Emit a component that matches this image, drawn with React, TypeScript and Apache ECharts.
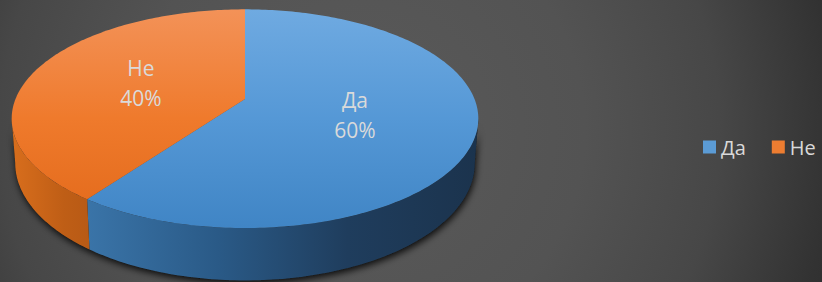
import React, { useEffect, useRef } from 'react';
import * as echarts from 'echarts';

// ---- data ----
const categories = ['Да', 'Не'];
const values = [60, 40];

// ---- styles ----
const legendColors = ['#5b9bd5', '#ed7d31'];
const topStops = [
  ['#6faae1', '#5598d6', '#4085c5'],
  ['#f39258', '#ef7a2c', '#e2691a'],
];
const wallStops = [
  ['#3a74a8', '#2a5a87', '#1f3d5d', '#1b334d'],
  ['#d86e1d', '#cc6619', '#bf5e16', '#b85a15'],
];

// ---- layout (3D projection of the pie) ----
const CX = 245;
const CY = 99;
const A = 229.5;
const B = 105.8;
const P = 0.18;
const H = 43;
const K = 0.985;
const thL = (Math.acos(-P) * 180) / Math.PI;
const thR = 360 - thL;

const total = values.reduce((a, b) => a + b, 0);

function proj(theta: number, f: number, dz: number): number[] {
  const t = (theta * Math.PI) / 180;
  const u = f * Math.sin(t);
  const v = -f * Math.cos(t);
  const s = 1 / (1 - P * v);
  const kx = dz ? K : 1;
  return [CX + A * u * s * kx, CY + B * v * s + dz * H * s];
}

function arc(a: number, b: number, f: number, dz: number): number[][] {
  const pts: number[][] = [];
  const n = Math.max(2, Math.ceil(Math.abs(b - a)));
  for (let i = 0; i <= n; i++) pts.push(proj(a + ((b - a) * i) / n, f, dz));
  return pts;
}

function stopsOf(cols: string[]) {
  return cols.map((c, i) => ({ offset: i / (cols.length - 1), color: c }));
}

const FONT = '"Open Sans", "Noto Sans", sans-serif';

function sliceSeries(i: number) {
  const before = values.slice(0, i).reduce((a, b) => a + b, 0);
  const start = (before / total) * 360;
  const end = ((before + values[i]) / total) * 360;
  return {
    type: 'custom',
    name: categories[i],
    coordinateSystem: 'none',
    z: 3,
    silent: true,
    itemStyle: { color: legendColors[i] },
    data: [[values[i]]],
    renderItem: () => {
      const children: any[] = [];
      const a = Math.max(start, thL);
      const b = Math.min(end, thR);
      if (a < b) {
        const pts = arc(a, b, 1, 0).concat(arc(b, a, 1, 1));
        children.push({
          type: 'polygon',
          shape: { points: pts },
          style: {
            fill: new echarts.graphic.LinearGradient(0, 0, 1, 0, stopsOf(wallStops[i])),
          },
        });
      }
      const top = [proj(0, 0, 0)].concat(arc(start, end, 1, 0));
      children.push({
        type: 'polygon',
        shape: { points: top },
        style: {
          fill: new echarts.graphic.LinearGradient(
            0,
            CY - B / (1 + P),
            0,
            CY + B / (1 - P),
            stopsOf(topStops[i]),
            true
          ),
        },
      });
      const mid = (start + end) / 2;
      const lp = proj(mid, 0.49, 0);
      const pct = Math.round((values[i] / total) * 100) + '%';
      children.push({
        type: 'text',
        x: lp[0],
        y: lp[1],
        style: {
          text: categories[i] + '\n' + pct,
          fill: '#dadada',
          fontSize: 21,
          fontFamily: FONT,
          align: 'center',
          verticalAlign: 'middle',
          lineHeight: 30,
        },
      });
      return { type: 'group', children };
    },
  };
}

const shadowSeries = {
  type: 'custom',
  name: 'shadow',
  coordinateSystem: 'none',
  z: 2,
  silent: true,
  data: [[total]],
  renderItem: () => {
    const pts = arc(thL, thR, 1, 0).concat(arc(thR, thL, 1, 1));
    return {
      type: 'polygon',
      shape: { points: pts },
      style: {
        fill: '#1a1a1a',
        shadowBlur: 7,
        shadowOffsetX: 1,
        shadowOffsetY: 3,
        shadowColor: 'rgba(0,0,0,0.85)',
      },
    };
  },
};

export default function App() {
  const ref = useRef<HTMLDivElement>(null);
  useEffect(() => {
    document.body.style.margin = '0';
    if (!ref.current) return;
    const chart = echarts.init(ref.current, null, { renderer: 'svg' });
    chart.setOption({
      animation: false,
      graphic: [
        {
          type: 'rect',
          z: -10,
          silent: true,
          shape: { x: 0, y: 0, width: 822, height: 282 },
          style: {
            fill: new echarts.graphic.RadialGradient(
              360,
              130,
              500,
              [
                { offset: 0, color: '#5a5a5a' },
                { offset: 0.45, color: '#535353' },
                { offset: 0.72, color: '#474747' },
                { offset: 0.95, color: '#323232' },
                { offset: 1, color: '#2f2f2f' },
              ],
              true
            ),
          },
        },
      ],
      legend: {
        data: categories.map((c, i) => ({ name: c, itemStyle: { color: legendColors[i] } })),
        orient: 'horizontal',
        left: 703,
        top: 137,
        width: 200,
        padding: 0,
        icon: 'rect',
        itemWidth: 13,
        itemHeight: 13,
        itemGap: 26,
        textStyle: { color: '#d9d9d9', fontSize: 20, fontFamily: FONT, lineHeight: 20 },
        selectedMode: false,
      },
      series: [shadowSeries, sliceSeries(0), sliceSeries(1)],
    });
    return () => chart.dispose();
  }, []);
  return <div ref={ref} style={{ width: 822, height: 282 }} />;
}
